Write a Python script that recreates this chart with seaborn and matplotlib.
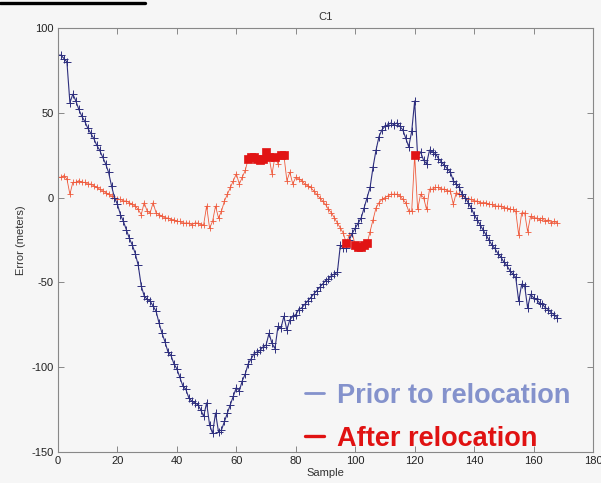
import numpy as np
import pandas as pd
import seaborn as sns
import matplotlib
matplotlib.use("Agg")
import matplotlib.pyplot as plt
from matplotlib.lines import Line2D

# Sample index shared by both series
samples = list(range(0, 169))

# Position error before relocation (meters)
prior_error = [
    84, 84, 82, 80, 56, 61, 57, 52, 48, 45,
    41, 38, 35, 31, 28, 24, 20, 15, 7, 0,
    -4, -10, -14, -19, -24, -28, -33, -40, -52, -58,
    -60, -61, -64, -67, -74, -80, -85, -91, -93, -98,
    -101, -106, -111, -113, -118, -120, -121, -122, -125, -129,
    -121, -134, -139, -127, -138, -137, -132, -127, -122, -117,
    -112, -114, -108, -104, -98, -95, -92, -91, -90, -88,
    -87, -80, -86, -89, -76, -77, -70, -78, -72, -70,
    -69, -66, -65, -63, -61, -59, -57, -55, -53, -51,
    -49, -48, -46, -45, -44, -28, -30, -30, -25, -21,
    -18, -15, -12, -6, 0, 6, 18, 28, 36, 40,
    42, 43, 44, 43, 44, 42, 40, 35, 30, 39,
    57, 24, 27, 22, 20, 28, 27, 26, 23, 21,
    19, 17, 15, 10, 8, 6, 2, 0, -3, -6,
    -10, -13, -16, -19, -22, -25, -28, -30, -33, -35,
    -38, -40, -43, -45, -47, -61, -51, -52, -65, -57,
    -59, -60, -62, -63, -65, -66, -68, -69, -71,
]

# Position error after relocation (meters)
after_error = [
    12, 12, 13, 11, 2, 9, 9, 10, 9, 9,
    8, 8, 7, 6, 5, 4, 3, 2, 1, 0,
    -1, -1, -2, -2, -3, -4, -5, -7, -10, -3,
    -8, -9, -3, -9, -10, -11, -12, -12, -13, -13,
    -14, -14, -15, -15, -15, -16, -15, -15, -16, -16,
    -5, -18, -14, -5, -12, -8, -2, 2, 6, 10,
    14, 8, 12, 16, 23, 24, 24, 23, 22, 23,
    27, 24, 14, 24, 20, 25, 25, 10, 15, 8,
    12, 11, 10, 8, 7, 6, 4, 2, 0, -2,
    -4, -7, -9, -12, -15, -18, -21, -27, -22, -21,
    -28, -29, -29, -28, -27, -20, -13, -6, -3, -1,
    0, 1, 2, 2, 2, 1, -1, -3, -8, -8,
    25, -7, 2, 0, -7, 5, 5, 6, 6, 5,
    5, 4, 4, -4, 3, 2, 1, 0, -1, -1,
    -2, -2, -3, -3, -3, -4, -4, -5, -5, -5,
    -6, -6, -7, -7, -8, -22, -9, -9, -20, -11,
    -12, -12, -13, -12, -14, -13, -15, -14, -15,
]

# Samples flagged after relocation (drawn as filled squares)
flagged_samples = [64, 65, 66, 67, 68, 69, 70, 71, 73, 75, 76,
                   97, 100, 101, 102, 103, 104, 120]

x_ticks = [0, 20, 40, 60, 80, 100, 120, 140, 160, 180]
y_ticks = [-150, -100, -50, 0, 50, 100]
legend_labels = ["Prior to relocation", "After relocation"]
title_text = "C1"

prior_color = "#2e2f7e"
after_color = "#ef5a3c"
flag_color = "#e11414"
legend_prior_color = "#8492cc"
legend_after_color = "#e01212"
bg = "#f6f6f6"

df = pd.DataFrame({
    "Sample": samples * 2,
    "Error": prior_error + after_error,
    "Series": [legend_labels[0]] * len(samples) + [legend_labels[1]] * len(samples),
})
flag_df = pd.DataFrame({
    "Sample": flagged_samples,
    "Error": [after_error[s] for s in flagged_samples],
})

sns.set_theme(style="ticks")
plt.rcParams["font.family"] = ["Liberation Sans", "DejaVu Sans"]
plt.rcParams["axes.unicode_minus"] = False

fig = plt.figure(figsize=(6.01, 4.83), dpi=100, facecolor=bg)
ax = fig.add_axes([58 / 601, 31 / 483, 535 / 601, 424 / 483])
ax.set_facecolor(bg)

sns.lineplot(data=df[df["Series"] == legend_labels[1]], x="Sample", y="Error",
             color=after_color, lw=0.6, marker="+", markersize=5,
             markeredgewidth=0.6, markeredgecolor=after_color,
             estimator=None, sort=False, legend=False, ax=ax)
sns.lineplot(data=df[df["Series"] == legend_labels[0]], x="Sample", y="Error",
             color=prior_color, lw=0.8, marker="+", markersize=6,
             markeredgewidth=0.7, markeredgecolor=prior_color,
             estimator=None, sort=False, legend=False, ax=ax)
sns.scatterplot(data=flag_df, x="Sample", y="Error", marker="s", s=38,
                color=flag_color, edgecolor=flag_color, linewidth=0.5,
                legend=False, ax=ax, zorder=4)

ax.set_xlim(0, 180)
ax.set_ylim(-150, 100)
ax.set_xticks(x_ticks)
ax.set_yticks(y_ticks)
ax.tick_params(direction="in", length=4, width=0.6, color="#777777",
               labelsize=8, labelcolor="#222222", top=True, right=True, pad=3)
for sp in ax.spines.values():
    sp.set_visible(True)
    sp.set_color("#888888")
    sp.set_linewidth(0.8)

ax.set_title(title_text, fontsize=8, color="#333333", pad=6)
ax.set_xlabel("Sample", fontsize=8, color="#333333", labelpad=1)
ax.set_ylabel("Error (meters)", fontsize=8, color="#333333", labelpad=4)

handles = [Line2D([0], [0], color=legend_prior_color, lw=2),
           Line2D([0], [0], color=legend_after_color, lw=2.4)]
leg = fig.legend(handles, legend_labels, loc="upper left",
                 bbox_to_anchor=(286 / 601, 1 - 364 / 483),
                 frameon=False, handlelength=0.7, handletextpad=0.5,
                 labelspacing=0.62, borderpad=0.2,
                 prop={"family": "Liberation Sans", "weight": "bold", "size": 19.5})
for txt, col in zip(leg.get_texts(), [legend_prior_color, legend_after_color]):
    txt.set_color(col)

# short black rule across the top-left corner
fig.add_artist(Line2D([0, 145 / 601], [1 - 2.5 / 483, 1 - 2.5 / 483],
                      transform=fig.transFigure, color="black", lw=2.4))

fig.savefig("out.png", dpi=100, facecolor=bg)
